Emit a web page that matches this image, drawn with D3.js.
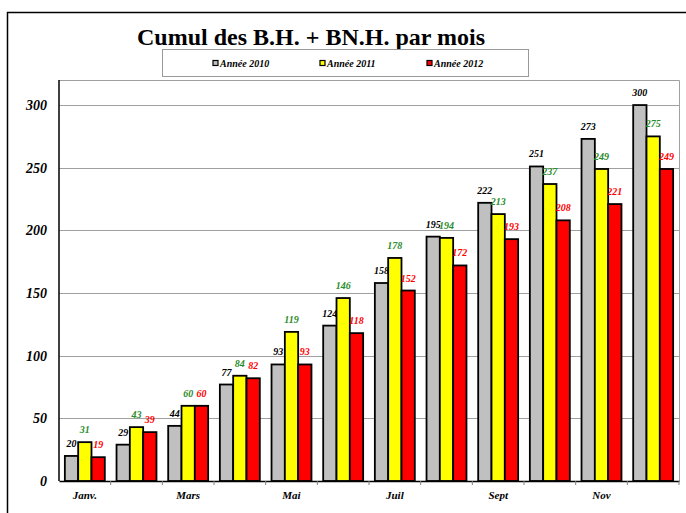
<!DOCTYPE html>
<html lang="fr">
<head>
    <meta charset="UTF-8">
    <title>Cumul des B.H. + BN.H. par mois</title>
    <style>
        body { margin: 0; background: #fff; }
        svg text { font-family: "Liberation Serif", "Times New Roman", serif; }
    </style>
</head>
<body>
    <div id="chart"></div>
    <script src="https://d3js.org/d3.v7.min.js"></script>
    <script>
        const months = ['Janv.', 'Févr.', 'Mars', 'Avr.', 'Mai', 'Juin', 'Juil', 'Août', 'Sept', 'Oct', 'Nov', 'Déc.']
        const shownMonths = ['Janv.', 'Mars', 'Mai', 'Juil', 'Sept', 'Nov']
        const seriesNames = ['Année 2010', 'Année 2011', 'Année 2012']
        const values2010 = [20, 29, 44, 77, 93, 124, 158, 195, 222, 251, 273, 300]
        const values2011 = [31, 43, 60, 84, 119, 146, 178, 194, 213, 237, 249, 275]
        const values2012 = [19, 39, 60, 82, 93, 118, 152, 172, 193, 208, 221, 249]
        const yTicks = [0, 50, 100, 150, 200, 250, 300]

        const series = [values2010, values2011, values2012]
        const fills = ['#c0c0c0', '#ffff00', '#ff0000']
        const labelColors = ['#000000', '#2a8c2a', '#ff0000']
        const serif = '"Liberation Serif", "Times New Roman", serif'

        const width = 686
        const height = 513
        const margin = { top: 80, right: 7, bottom: 32, left: 59 }

        const svg = d3.select('#chart')
            .append('svg')
            .attr('width', width)
            .attr('height', height)

        // outer frame (runs off the page)
        svg.append('rect')
            .attr('x', 7.5).attr('y', 12.5)
            .attr('width', 720).attr('height', 540)
            .attr('fill', 'none')
            .attr('stroke', '#000')
            .attr('stroke-width', 1.5)

        const x = d3.scaleBand()
            .domain(months)
            .range([margin.left, width - margin.right])

        const xInner = d3.scaleBand()
            .domain(d3.range(series.length))
            .range([0, x.bandwidth()])
            .paddingOuter(0.44)

        const y = d3.scaleLinear()
            .domain([0, 320])
            .range([height - margin.bottom, margin.top])

        // grid lines
        svg.append('g')
            .selectAll('line')
            .data(yTicks.slice(1))
            .join('line')
            .attr('x1', margin.left)
            .attr('x2', width - margin.right)
            .attr('y1', d => Math.round(y(d)) + 0.5)
            .attr('y2', d => Math.round(y(d)) + 0.5)
            .attr('stroke', '#a0a0a0')

        // plot area top/right border
        svg.append('path')
            .attr('d', `M${margin.left},${margin.top + 0.5}H${width - margin.right + 0.5}V${height - margin.bottom}`)
            .attr('fill', 'none')
            .attr('stroke', '#a0a0a0')

        // bars
        const groups = svg.append('g')
            .selectAll('g')
            .data(series)
            .join('g')
            .attr('fill', (d, i) => fills[i])

        groups.selectAll('rect')
            .data((d, i) => d.map((v, j) => ({ v, j, i })))
            .join('rect')
            .attr('x', d => x(months[d.j]) + xInner(d.i))
            .attr('y', d => y(d.v))
            .attr('width', xInner.bandwidth())
            .attr('height', d => y(0) - y(d.v))
            .attr('stroke', '#000')
            .attr('stroke-width', 1.8)

        // value labels
        groups.selectAll('text')
            .data((d, i) => d.map((v, j) => ({ v, j, i })))
            .join('text')
            .attr('x', d => x(months[d.j]) + xInner(d.i) + xInner.bandwidth() / 2)
            .attr('y', d => y(d.v) - 9)
            .attr('text-anchor', 'middle')
            .attr('fill', d => labelColors[d.i])
            .style('font-family', serif)
            .style('font-size', '10px')
            .style('font-style', 'italic')
            .style('font-weight', 'bold')
            .text(d => d.v)

        // y axis
        const yAxis = svg.append('g')
            .attr('transform', `translate(${margin.left},0)`)
            .call(d3.axisLeft(y).tickValues(yTicks).tickSize(0).tickPadding(12))
        yAxis.select('.domain').remove()
        yAxis.selectAll('text')
            .style('font-family', serif)
            .style('font-size', '14px')
            .style('font-style', 'italic')
            .style('font-weight', 'bold')
            .attr('fill', '#000')

        svg.append('line')
            .attr('x1', margin.left).attr('x2', margin.left)
            .attr('y1', margin.top).attr('y2', y(0))
            .attr('stroke', '#000')
            .attr('stroke-width', 1.5)

        // x axis
        const xAxis = svg.append('g')
            .attr('transform', `translate(0,${y(0)})`)
            .call(d3.axisBottom(x).tickSize(0).tickFormat(d => shownMonths.includes(d) ? d : '').tickPadding(10))
        xAxis.select('.domain')
            .attr('stroke', '#000')
            .attr('stroke-width', 1.5)
        xAxis.selectAll('text')
            .style('font-family', serif)
            .style('font-size', '11px')
            .style('font-style', 'italic')
            .style('font-weight', 'bold')
            .attr('fill', '#000')

        svg.append('g')
            .selectAll('line')
            .data(months)
            .join('line')
            .attr('x1', d => x(d) + x.bandwidth())
            .attr('x2', d => x(d) + x.bandwidth())
            .attr('y1', y(0))
            .attr('y2', y(0) + 4)
            .attr('stroke', '#808080')

        // title
        svg.append('text')
            .attr('x', 311)
            .attr('y', 45)
            .attr('text-anchor', 'middle')
            .style('font-family', serif)
            .style('font-size', '24px')
            .style('font-weight', 'bold')
            .text('Cumul des B.H. + BN.H. par mois')

        // legend
        const legend = svg.append('g')
        legend.append('rect')
            .attr('x', 162.5).attr('y', 49.5)
            .attr('width', 366).attr('height', 27)
            .attr('fill', '#fff')
            .attr('stroke', '#999')

        const legendX = d3.scalePoint()
            .domain(seriesNames)
            .range([213, 427])

        const items = legend.selectAll('g.item')
            .data(seriesNames)
            .join('g')
            .attr('class', 'item')
            .attr('transform', d => `translate(${legendX(d)},0)`)

        items.append('rect')
            .attr('x', 0).attr('y', 60.5)
            .attr('width', 5).attr('height', 5)
            .attr('fill', (d, i) => fills[i])
            .attr('stroke', '#000')
            .attr('stroke-width', 1.2)

        items.append('text')
            .attr('x', 7)
            .attr('y', 67)
            .style('font-family', serif)
            .style('font-size', '10px')
            .style('font-style', 'italic')
            .style('font-weight', 'bold')
            .text(d => d)
    </script>
</body>
</html>
